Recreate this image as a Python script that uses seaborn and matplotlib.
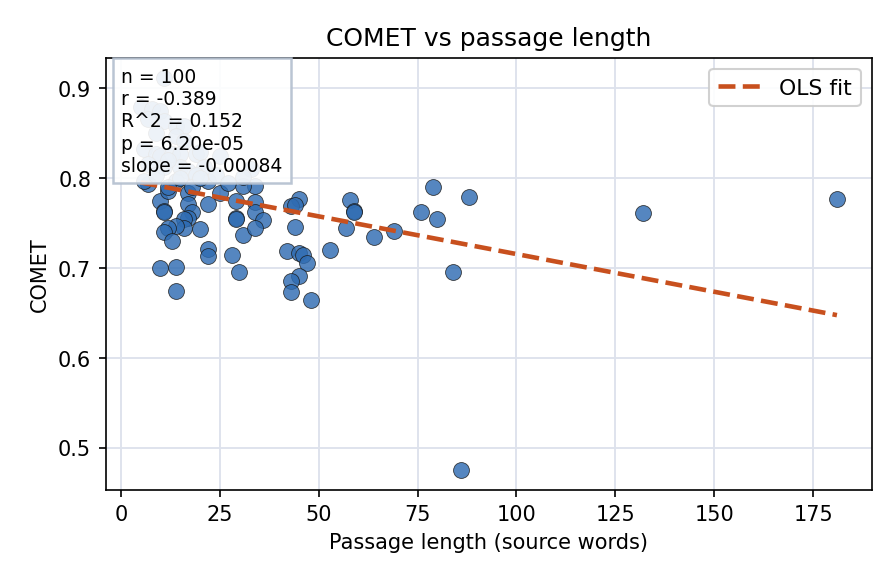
import numpy as np
import pandas as pd
import matplotlib
matplotlib.use("Agg")
import matplotlib.pyplot as plt
import seaborn as sns

# --- data ---
passage_len = [
    # 40-90 word band
    45, 43, 44, 44, 42, 45, 46, 47, 45, 43, 43, 48, 53, 58, 59, 59, 57, 64, 69, 76, 79, 80, 88, 84,
    # outliers
    181, 132, 86,
    # short passages, visible
    7, 10, 11, 11, 12, 14, 17, 17, 18, 17, 16, 16, 14, 12, 11, 13, 20, 22, 22, 25, 22, 22, 28, 30,
    10, 14, 14, 29, 29, 29, 31, 34, 31, 34, 34, 36, 34,
    # short passages, behind the stats box
    11, 5, 8, 10, 7, 11, 14, 16, 14, 16, 6, 9, 10, 13, 15, 19, 20, 25, 7, 11, 15, 17, 21, 33,
    6, 9, 19, 24, 31,
    12, 15, 18, 9, 20, 27, 12,
]
comet = [
    0.777, 0.769, 0.770, 0.746, 0.719, 0.717, 0.714, 0.706, 0.691, 0.685, 0.673, 0.664, 0.720,
    0.776, 0.764, 0.762, 0.744, 0.734, 0.741, 0.762, 0.790, 0.754, 0.779, 0.696,
    0.777, 0.761, 0.475,
    0.793, 0.775, 0.764, 0.762, 0.786, 0.797, 0.784, 0.771, 0.762, 0.756, 0.754, 0.745, 0.747,
    0.745, 0.740, 0.730, 0.743, 0.771, 0.797, 0.783, 0.721, 0.713, 0.714, 0.695,
    0.700, 0.701, 0.674, 0.775, 0.756, 0.754, 0.737, 0.791, 0.791, 0.773, 0.762, 0.753, 0.744,
    0.912, 0.879, 0.877, 0.875, 0.866, 0.864, 0.858, 0.858, 0.847, 0.841, 0.832, 0.827, 0.825,
    0.827, 0.827, 0.827, 0.829, 0.825, 0.816, 0.812, 0.812, 0.808, 0.812, 0.810,
    0.797, 0.803, 0.804, 0.803, 0.801,
    0.790, 0.800, 0.790, 0.850, 0.800, 0.795, 0.820,
]

# fit / stats as printed in the reference
n_obs = 100
r_val = -0.389
r2_val = 0.152
p_val = 6.20e-05
slope = -0.00084
intercept = 0.7995

df = pd.DataFrame({"length": passage_len, "comet": comet})

sns.set_style("ticks")
plt.rcParams.update({
    "font.family": ["DejaVu Sans"],
    "font.size": 10,
    "text.color": "black",
    "axes.labelcolor": "black",
    "xtick.color": "black",
    "ytick.color": "black",
})

fig, ax = plt.subplots(figsize=(5.973, 3.893), dpi=150)
fig.subplots_adjust(left=0.118, right=0.973, bottom=0.160, top=0.899)

ax.grid(True, color="#dde2ec", linewidth=0.9)
ax.set_axisbelow(True)

sns.scatterplot(
    data=df, x="length", y="comet", ax=ax,
    color="#2f6cb2", alpha=0.82, s=58, edgecolor="#1a1a1a", linewidth=0.4,
    zorder=3,
)

x_fit = np.array([df["length"].min(), df["length"].max()])
y_fit = intercept + slope * x_fit
ax.plot(x_fit, y_fit, linestyle="--", color="#c8501e", linewidth=2.2,
        label="OLS fit", zorder=4)

stats_txt = (
    f"n = {n_obs}\n"
    f"r = {r_val:.3f}\n"
    f"R^2 = {r2_val:.3f}\n"
    f"p = {p_val:.2e}\n"
    f"slope = {slope:.5f}"
)
ax.text(0.02, 0.98, stats_txt, transform=ax.transAxes, va="top", ha="left",
        fontsize=9, linespacing=1.22, zorder=6,
        bbox=dict(boxstyle="square,pad=0.45", facecolor="white",
                  edgecolor="#b3bfcf", alpha=0.9, linewidth=1.2))

ax.legend(loc="upper right", fontsize=10.5, framealpha=0.9)

ax.set_title("COMET vs passage length", fontsize=12)
ax.set_xlabel("Passage length (source words)")
ax.set_ylabel("COMET")
ax.set_xticks([0, 25, 50, 75, 100, 125, 150, 175])
ax.set_yticks([0.5, 0.6, 0.7, 0.8, 0.9])

for sp in ax.spines.values():
    sp.set_visible(True)
    sp.set_color("black")

fig.savefig("out.png", dpi=150)
